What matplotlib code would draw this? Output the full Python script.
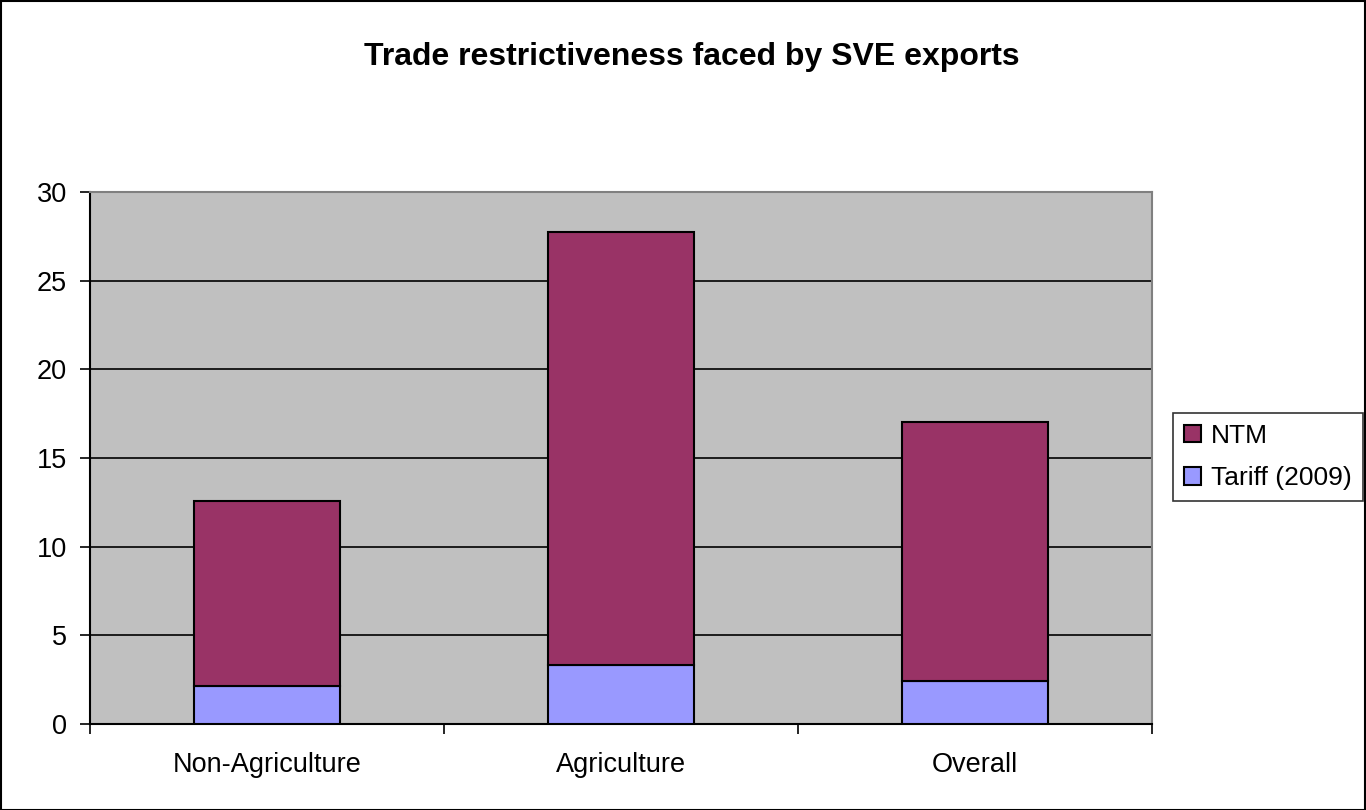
import matplotlib
matplotlib.use("Agg")
import matplotlib.pyplot as plt
from matplotlib.patches import Rectangle

categories = ["Non-Agriculture", "Agriculture", "Overall"]
tariff = [2.15, 3.35, 2.45]
ntm = [10.4, 24.4, 14.6]
yticks = [0, 5, 10, 15, 20, 25, 30]

plt.rcParams['font.family'] = ['Liberation Sans', 'DejaVu Sans']

W, H = 1366, 810
fig = plt.figure(figsize=(W / 100, H / 100), dpi=100)
ax = fig.add_axes([90 / W, 1 - 724 / H, (1152 - 90) / W, (724 - 192) / H])
ax.set_facecolor('#C0C0C0')

x = list(range(len(categories)))
ax.bar(x, tariff, width=0.41, color='#9999FF', edgecolor='black', linewidth=1.5,
       label='Tariff (2009)', zorder=3)
ax.bar(x, ntm, width=0.41, bottom=tariff, color='#993366', edgecolor='black',
       linewidth=1.5, label='NTM', zorder=3)

ax.set_xlim(-0.5, len(categories) - 0.5)
ax.set_ylim(0, 30)
ax.set_yticks(yticks)
ax.set_yticklabels([str(t) for t in yticks], fontsize=19.5)
ax.yaxis.grid(True, color='black', linewidth=1.2, zorder=1)
ax.set_axisbelow(True)

ax.set_xticks(x)
ax.set_xticklabels(categories, fontsize=19.5)
ax.tick_params(axis='x', length=0, pad=20)
ax.set_xticks([i - 0.5 for i in range(len(categories) + 1)], minor=True)
ax.tick_params(axis='x', which='minor', length=7, width=1.2, direction='out')
ax.tick_params(axis='y', length=7, width=1.2, direction='out', pad=9.5)

for s in ['top', 'right']:
    ax.spines[s].set_color('#808080')
    ax.spines[s].set_linewidth(1.5)
for s in ['left', 'bottom']:
    ax.spines[s].set_color('black')
    ax.spines[s].set_linewidth(1.5)

fig.text(692 / W, 1 - 57 / H, 'Trade restrictiveness faced by SVE exports',
         ha='center', va='center', fontsize=23, fontweight='bold')

handles, labels = ax.get_legend_handles_labels()
leg = fig.legend(handles[::-1], labels[::-1], loc='center left',
                 bbox_to_anchor=(1173 / W, 1 - 457 / H), fontsize=19,
                 frameon=True, fancybox=False, edgecolor='black',
                 handlelength=0.65, handleheight=0.65, handletextpad=0.4,
                 borderpad=0.4, labelspacing=0.7, borderaxespad=0)
leg.get_frame().set_linewidth(1.2)

fig.add_artist(Rectangle((0.5 / W, 0.5 / H), 1 - 1.5 / W, 1 - 1.5 / H,
                         transform=fig.transFigure, fill=False,
                         edgecolor='black', linewidth=1.5))

fig.savefig('out.png', dpi=100)
